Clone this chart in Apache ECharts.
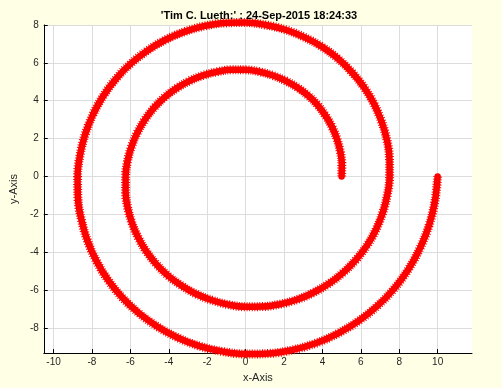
<!DOCTYPE html>
<html>
<head>
<meta charset="utf-8">
<script src="https://cdn.jsdelivr.net/npm/echarts@6/dist/echarts.min.js"></script>
<style>
html,body{margin:0;padding:0;background:#ffffe6;}
#c{width:502px;height:388px;}
</style>
</head>
<body>
<div id="c"></div>
<script>
// Spiral points (x, y), from the outer start at (10,0) to the inner end at (5,0)
var spiralX = [10.00, 9.86, 9.56, 9.09, 8.48, 7.73, 6.85, 5.87, 4.79, 3.65, 2.45, 1.23, 0.00, -1.22, -2.40, -3.53, -4.58, -5.55, -6.41, -7.15, -7.76, -8.23, -8.55, -8.73, -8.75,
  -8.62, -8.35, -7.94, -7.40, -6.74, -5.97, -5.11, -4.17, -3.17, -2.13, -1.07, 0.00, 1.05, 2.08, 3.05, 3.96, 4.79, 5.52, 6.16, 6.68, 7.07, 7.35, 7.49, 7.50,
  7.38, 7.14, 6.79, 6.32, 5.74, 5.08, 4.34, 3.54, 2.69, 1.81, 0.90, 0.00, -0.89, -1.75, -2.57, -3.33, -4.03, -4.64, -5.17, -5.59, -5.92, -6.14, -6.25, -6.25,
  -6.15, -5.94, -5.63, -5.23, -4.75, -4.20, -3.58, -2.92, -2.21, -1.48, -0.74, 0.00, 0.73, 1.43, 2.09, 2.71, 3.27, 3.76, 4.17, 4.51, 4.76, 4.93, 5.01, 5.00];
var spiralY = [0.00, -1.30, -2.56, -3.77, -4.90, -5.93, -6.85, -7.64, -8.30, -8.81, -9.16, -9.35, -9.38, -9.24, -8.96, -8.52, -7.94, -7.23, -6.41, -5.49, -4.48, -3.41, -2.29, -1.15, 0.00,
  1.14, 2.24, 3.29, 4.27, 5.17, 5.97, 6.65, 7.22, 7.65, 7.95, 8.11, 8.13, 8.00, 7.75, 7.36, 6.86, 6.24, 5.52, 4.72, 3.85, 2.93, 1.97, 0.99, 0.00,
  -0.97, -1.91, -2.81, -3.65, -4.41, -5.08, -5.66, -6.13, -6.50, -6.74, -6.87, -6.88, -6.77, -6.54, -6.21, -5.77, -5.25, -4.64, -3.96, -3.23, -2.45, -1.65, -0.82, 0.00,
  0.81, 1.59, 2.33, 3.02, 3.65, 4.20, 4.67, 5.05, 5.34, 5.53, 5.63, 5.63, 5.53, 5.33, 5.05, 4.69, 4.26, 3.76, 3.20, 2.60, 1.97, 1.32, 0.66, 0.00];
var xTicks = [-10, -8, -6, -4, -2, 0, 2, 4, 6, 8, 10];
var yTicks = [-8, -6, -4, -2, 0, 2, 4, 6, 8];
var titleText = "'Tim C. Lueth:' : 24-Sep-2015 18:24:33";
var xName = 'x-Axis';
var yName = 'y-Axis';

var pts = spiralX.map(function (x, i) { return [x, spiralY[i]]; });
var font = "'Liberation Sans', Arial, sans-serif";
var chart = echarts.init(document.getElementById('c'));
chart.setOption({
  backgroundColor: '#ffffe6',
  animation: false,
  title: {
    text: titleText, left: 254, top: 5, textAlign: 'center',
    textStyle: { fontFamily: font, fontSize: 11, fontWeight: 'bold', color: '#000' }
  },
  grid: { left: 36, right: 30, top: 25, bottom: 24, show: true, backgroundColor: '#ffffff', borderWidth: 0 },
  xAxis: {
    type: 'value', min: -10.51, max: 11.79,
    name: xName, nameLocation: 'middle', nameGap: 14,
    nameTextStyle: { fontFamily: font, fontSize: 11, color: '#262626' },
    axisLine: { show: true, onZero: false, lineStyle: { color: '#000', width: 1 } },
    axisTick: { show: true, inside: true, length: 4, customValues: xTicks, lineStyle: { color: '#000' } },
    axisLabel: { customValues: xTicks, fontFamily: font, fontSize: 10, color: '#262626', margin: 4 },
    splitLine: { show: true, lineStyle: { color: '#dcdcdc', width: 1 } }
  },
  yAxis: {
    type: 'value', min: -9.33, max: 8.0,
    name: yName, nameLocation: 'middle', nameGap: 17, nameRotate: 90,
    nameTextStyle: { fontFamily: font, fontSize: 11, color: '#262626' },
    axisLine: { show: true, onZero: false, lineStyle: { color: '#000', width: 1 } },
    axisTick: { show: true, inside: true, length: 4, customValues: yTicks, lineStyle: { color: '#000' } },
    axisLabel: { customValues: yTicks, fontFamily: font, fontSize: 10, color: '#262626', margin: 5 },
    splitLine: { show: true, lineStyle: { color: '#dcdcdc', width: 1 } }
  },
  series: [{
    type: 'line', data: pts, smooth: 0.4, clip: false,
    symbol: 'none',
    lineStyle: { color: '#ff0000', width: 6.5, join: 'round', cap: 'round' }
  }, {
    type: 'line', data: pts, smooth: 0.4, clip: false,
    symbol: 'none',
    lineStyle: { color: '#ff0000', width: 9, type: [1, 1.6] }
  }]
});
</script>
</body>
</html>
